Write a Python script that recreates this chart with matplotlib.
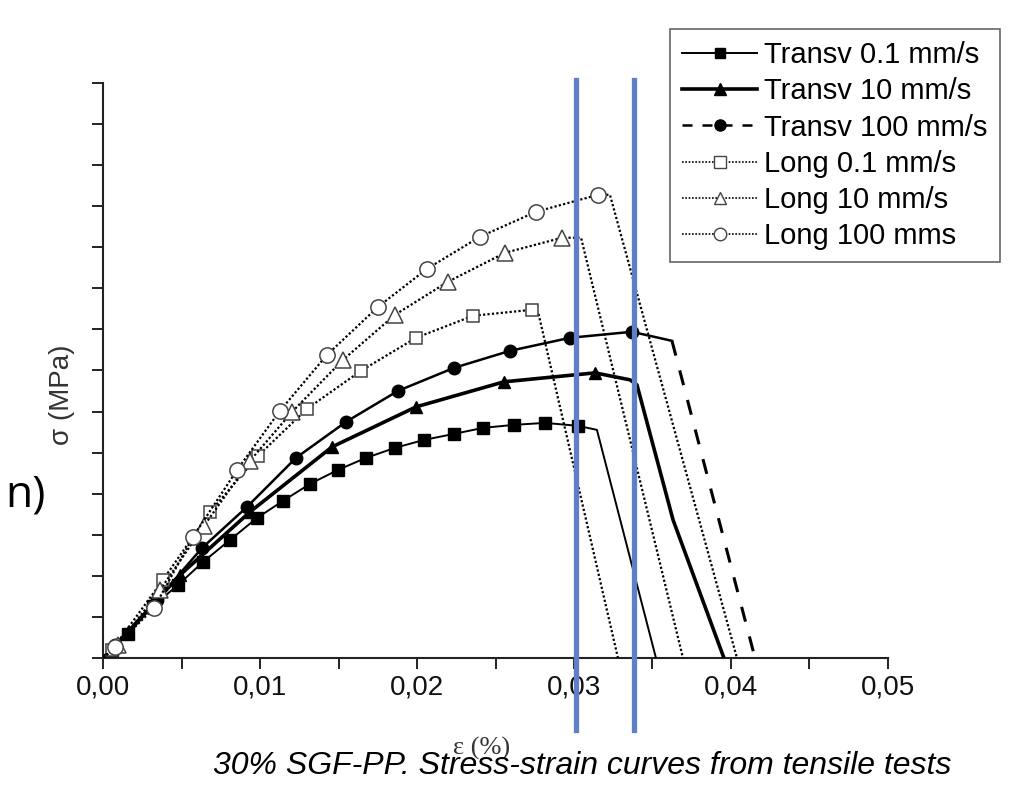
import matplotlib
matplotlib.use("Agg")
import matplotlib.pyplot as plt
from matplotlib.lines import Line2D
from matplotlib.ticker import MultipleLocator

plt.rcParams['font.family'] = ['Liberation Sans', 'DejaVu Sans']

# strain (-) / stress (MPa)
strain_t01 = [0, 0.00057, 0.00159, 0.00318, 0.00478, 0.00637, 0.00809, 0.00981, 0.01146, 0.01318,
              0.01497, 0.01675, 0.0186, 0.02045, 0.02236, 0.0242, 0.02618, 0.02815, 0.03025,
              0.03146, 0.03522]
stress_t01 = [0, 0.97, 2.92, 6.33, 8.89, 11.69, 14.37, 17.05, 19.12, 21.19,
              22.9, 24.36, 25.58, 26.55, 27.28, 28.01, 28.38, 28.62, 28.26,
              27.77, 0]

strain_t10 = [0, 0.00159, 0.0049, 0.00936, 0.01459, 0.01994, 0.02554, 0.03134,
              0.03357, 0.03401, 0.03631, 0.03955]
stress_t10 = [0, 3.17, 10.1, 17.78, 25.7, 30.57, 33.62, 34.71,
              33.86, 33.25, 16.81, 0]

strain_t100 = [0, 0.00076, 0.00344, 0.00631, 0.00917, 0.01229, 0.01548, 0.01879, 0.02236,
               0.02592, 0.02975, 0.03369, 0.03624, 0.04153]
stress_t100 = [0, 1.58, 7.06, 13.4, 18.39, 24.36, 28.75, 32.52, 35.32,
               37.39, 38.98, 39.71, 38.61, 0]

strain_l01 = [0, 0.00057, 0.00382, 0.00682, 0.00987, 0.01299, 0.01643, 0.01994, 0.02357,
              0.02732, 0.02771, 0.0328]
stress_l01 = [0, 0.97, 9.5, 17.78, 24.6, 30.33, 34.96, 38.98, 41.66,
              42.39, 42.15, 0]

strain_l10 = [0, 0.00096, 0.00363, 0.00643, 0.00936, 0.01204, 0.01529, 0.0186, 0.02197,
              0.02561, 0.02924, 0.03045, 0.03694]
stress_l10 = [0, 1.58, 8.28, 16.08, 24.0, 29.96, 36.3, 41.78, 45.8,
              49.33, 51.16, 51.16, 0]

strain_l100 = [0, 0.00076, 0.00325, 0.00573, 0.00854, 0.01127, 0.01427, 0.01752, 0.02064,
               0.02401, 0.02758, 0.03153, 0.03229, 0.04038]
stress_l100 = [0, 1.34, 6.09, 14.74, 22.9, 30.09, 36.91, 42.75, 47.38,
               51.28, 54.32, 56.39, 56.39, 0]

labels = ['Transv 0.1 mm/s', 'Transv 10 mm/s', 'Transv 100 mm/s',
          'Long 0.1 mm/s', 'Long 10 mm/s', 'Long 100 mms']

xticks = [0, 0.01, 0.02, 0.03, 0.04, 0.05]
xtick_labels = ['0,00', '0,01', '0,02', '0,03', '0,04', '0,05']

vlines_x = [0.0301, 0.0338]

fig = plt.figure(figsize=(10.16, 7.88), dpi=100)
ax = fig.add_axes([0.1014, 0.165, 0.7726, 0.7297])

dot = (0, (1, 1))
gray = '#444444'

# transverse
ax.plot(strain_t01, stress_t01, color='k', lw=1.4, marker='s', ms=8,
        markevery=list(range(1, 19)), zorder=3)
ax.plot(strain_t10, stress_t10, color='k', lw=2.6, marker='^', ms=9,
        markevery=list(range(1, 8)), zorder=3)
ax.plot(strain_t100[:-1], stress_t100[:-1], color='k', lw=1.8, marker='o', ms=9,
        markevery=list(range(1, 12)), zorder=3)
ax.plot(strain_t100[-2:], stress_t100[-2:], color='k', lw=2.2, ls=(0, (5, 5)), zorder=3)

# longitudinal
ax.plot(strain_l01, stress_l01, color='k', lw=1.6, ls=dot, marker='s', ms=9,
        mfc='white', mec=gray, mew=1.1, markevery=list(range(1, 10)), zorder=3)
ax.plot(strain_l10, stress_l10, color='k', lw=1.6, ls=dot, marker='^', ms=11,
        mfc='white', mec=gray, mew=1.1, markevery=list(range(1, 11)), zorder=3)
ax.plot(strain_l100, stress_l100, color='k', lw=1.6, ls=dot, marker='o', ms=11,
        mfc='white', mec=gray, mew=1.1, markevery=list(range(1, 12)), zorder=3)

ax.set_xlim(0, 0.05)
ax.set_ylim(0, 70)
ax.set_xticks(xticks)
ax.set_xticklabels(xtick_labels)
ax.xaxis.set_minor_locator(MultipleLocator(0.005))
ax.yaxis.set_major_locator(MultipleLocator(10))
ax.yaxis.set_minor_locator(MultipleLocator(5))
ax.tick_params(axis='both', which='both', direction='out', length=8, width=1.4, color='#222222')
ax.tick_params(axis='x', labelsize=20, pad=4, labelcolor='#111111')
ax.tick_params(axis='y', labelleft=False)
for s in ['top', 'right']:
    ax.spines[s].set_visible(False)
for s in ['left', 'bottom']:
    ax.spines[s].set_linewidth(1.5)
    ax.spines[s].set_color('#222222')

# blue marker lines on top
for xv in vlines_x:
    ax.plot([xv, xv], [1.005, -0.125], color='#5F7FC6', lw=3.8,
            transform=ax.get_xaxis_transform(), clip_on=False, zorder=10)

handles = [
    Line2D([], [], color='k', lw=1.4, marker='s', ms=7),
    Line2D([], [], color='k', lw=2.6, marker='^', ms=8),
    Line2D([], [], color='k', lw=1.8, ls=(0, (4, 4)), marker='o', ms=8),
    Line2D([], [], color='k', lw=1.2, ls=dot, marker='s', ms=8, mfc='white', mec=gray, mew=1),
    Line2D([], [], color='k', lw=1.2, ls=dot, marker='^', ms=9, mfc='white', mec=gray, mew=1),
    Line2D([], [], color='k', lw=1.2, ls=dot, marker='o', ms=9, mfc='white', mec=gray, mew=1),
]
leg = fig.legend(handles, labels, loc='upper left', bbox_to_anchor=(670 / 1016, 1 - 29 / 788),
                 fontsize=21, handlelength=2.57, handletextpad=0.25, labelspacing=0.28,
                 borderpad=0.42, borderaxespad=0, fancybox=False, framealpha=1,
                 edgecolor='#666666')
leg.get_frame().set_linewidth(1.2)

fig.text(62 / 1016, 1 - 395 / 788, 'σ (MPa)', rotation=90, ha='center', va='center',
         fontsize=20, color='#333333')
fig.text(482 / 1016, 1 - 748 / 788, 'ε (%)', ha='center', va='center', fontsize=19,
         family=['Liberation Serif', 'DejaVu Serif'], color='#333333')
fig.text(582 / 1016, 1 - 766 / 788, '30% SGF-PP. Stress-strain curves from tensile tests',
         ha='center', va='center', fontsize=23, style='italic', color='k')
fig.text(46 / 1016, 1 - 495 / 788, 'n)', ha='right', va='center', fontsize=32,
         family=['Open Sans', 'DejaVu Sans'], color='k')

fig.savefig('out.png', dpi=100)
